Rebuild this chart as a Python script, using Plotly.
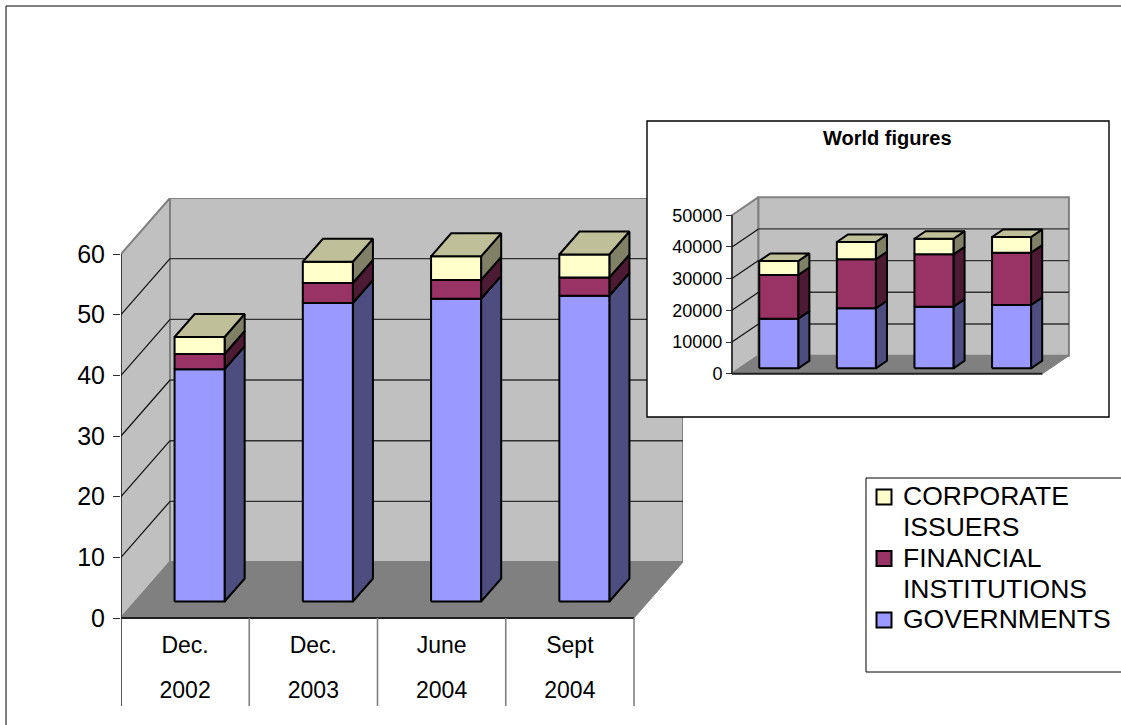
import plotly.graph_objects as go

W, H = 1121, 725
FONT = "Liberation Sans"

# Main chart: percentage shares
MONTHS = ["Dec.", "Dec.", "June", "Sept"]
YEARS = ["2002", "2003", "2004", "2004"]
GOVERNMENTS = [38.3, 49.2, 49.9, 50.4]
FINANCIAL = [2.5, 3.3, 3.1, 3.0]
CORPORATE = [2.8, 3.5, 3.9, 3.8]
MAIN_TICKS = [0, 10, 20, 30, 40, 50, 60]

# Inset chart: world figures
WORLD_GOVERNMENTS = [15650, 18930, 19430, 19970]
WORLD_FINANCIAL = [13780, 15455, 16530, 16500]
WORLD_CORPORATE = [4420, 5455, 4920, 4950]
WORLD_TICKS = [0, 10000, 20000, 30000, 40000, 50000]

# Legend text, one list of wrapped lines per series
LEGEND_LINES = [["CORPORATE", "ISSUERS"], ["FINANCIAL", "INSTITUTIONS"], ["GOVERNMENTS"]]
LEGEND_KEYS = ["corp", "fin", "gov"]

# front, side and top shades per series
SHADES = {
    "gov": ("#9999FF", "#4D4D80", "#7373BF"),
    "fin": ("#993366", "#4D1A33", "#732650"),
    "corp": ("#FFFFCC", "#808066", "#BFBF99"),
}
WALL, FLOOR, EDGE = "#C0C0C0", "#808080", "#808080"

fig = go.Figure()


def polygon(xa, ya, pts, fill, line="#000000", width=2.0):
    fig.add_trace(go.Scatter(
        x=[p[0] for p in pts] + [pts[0][0]],
        y=[p[1] for p in pts] + [pts[0][1]],
        xaxis=xa, yaxis=ya, mode="lines", fill="toself", fillcolor=fill,
        line=dict(color=line, width=width), hoverinfo="skip",
        showlegend=False, cliponaxis=False,
    ))


def segment(xa, ya, a, b, color, width=1.0):
    fig.add_trace(go.Scatter(
        x=[a[0], b[0]], y=[a[1], b[1]], xaxis=xa, yaxis=ya, mode="lines",
        line=dict(color=color, width=width), hoverinfo="skip",
        showlegend=False, cliponaxis=False,
    ))


def draw_box_chart(xa, ya, stacks, ticks, dx, dy, bar_w, near, far, wall_w):
    """Oblique-projected stacked columns: depth d shifts by (d*dx, d*dy)."""
    n = len(stacks[0][1])
    top = ticks[-1]

    def proj(x, v, d):
        return (x + d * dx, v + d * dy)

    # walls and floor
    polygon(xa, ya, [proj(0, 0, 0), proj(0, top, 0), proj(0, top, 1), proj(0, 0, 1)],
            WALL, EDGE, wall_w)
    polygon(xa, ya, [proj(0, 0, 1), proj(0, top, 1), proj(n, top, 1), proj(n, 0, 1)],
            WALL, EDGE, wall_w)
    polygon(xa, ya, [proj(0, 0, 0), proj(n, 0, 0), proj(n, 0, 1), proj(0, 0, 1)],
            FLOOR, EDGE, 1.0)
    segment(xa, ya, proj(0, 0, 0), proj(n, 0, 0), "#202020", 2.0)
    segment(xa, ya, proj(0, 0, 0), proj(0, top, 0), "#202020", 1.4)

    # gridlines on the side and back walls
    for t in ticks[1:-1]:
        segment(xa, ya, proj(0, t, 0), proj(0, t, 1), "#101010", 1.2)
        segment(xa, ya, proj(0, t, 1), proj(n, t, 1), "#303030", 1.4)

    # stacked columns, one box per series
    gap = (1 - bar_w) / 2
    for i in range(n):
        x0, x1 = i + gap, i + gap + bar_w
        base = 0
        last = len(stacks) - 1
        for s, (key, vals) in enumerate(stacks):
            front, side, cap = SHADES[key]
            v0, v1 = base, base + vals[i]
            polygon(xa, ya, [proj(x1, v0, near), proj(x1, v1, near), proj(x1, v1, far), proj(x1, v0, far)], side)
            polygon(xa, ya, [proj(x0, v0, near), proj(x1, v0, near), proj(x1, v1, near), proj(x0, v1, near)], front)
            if s == last:
                polygon(xa, ya, [proj(x0, v1, near), proj(x1, v1, near), proj(x1, v1, far), proj(x0, v1, far)], cap)
            base = v1


# Main chart
draw_box_chart(
    "x", "y",
    [("gov", GOVERNMENTS), ("fin", FINANCIAL), ("corp", CORPORATE)],
    MAIN_TICKS, dx=0.382, dy=9.23, bar_w=0.39, near=0.295, far=0.705, wall_w=2.0,
)

# Category table under the main chart
MAIN_LOW = -14.5
for i in range(len(MONTHS) + 1):
    segment("x", "y", (i, 0), (i, MAIN_LOW), "#303030" if i == 0 else "#808080", 1.6)
centers = [i + 0.5 for i in range(len(MONTHS))]
for labels, level in ((MONTHS, -4.8), (YEARS, -12.2)):
    fig.add_trace(go.Scatter(x=centers, y=[level] * len(labels), text=labels, mode="text",
                             xaxis="x", yaxis="y",
                             textfont=dict(family=FONT, size=23, color="#000000"),
                             hoverinfo="skip", showlegend=False, cliponaxis=False))

# Inset chart
draw_box_chart(
    "x2", "y2",
    [("gov", WORLD_GOVERNMENTS), ("fin", WORLD_FINANCIAL), ("corp", WORLD_CORPORATE)],
    WORLD_TICKS, dx=0.3415, dy=5680, bar_w=0.5026, near=0.3, far=0.72, wall_w=2.0,
)

# Legend panel: rows of wrapped text, with a swatch on each series' first row
rows, row_text, swatch_rows, swatch_colors = [], [], [], []
for lines, key in zip(LEGEND_LINES, LEGEND_KEYS):
    swatch_rows.append(len(rows))
    swatch_colors.append(SHADES[key][0])
    for line in lines:
        rows.append(len(rows))
        row_text.append(line)
fig.add_trace(go.Scatter(
    x=[18] * len(swatch_rows), y=swatch_rows, mode="markers", xaxis="x3", yaxis="y3",
    marker=dict(symbol="square", size=15, color=swatch_colors, line=dict(color="#000000", width=2)),
    hoverinfo="skip", showlegend=False, cliponaxis=False,
))
fig.add_trace(go.Scatter(
    x=[37] * len(rows), y=[r + 0.06 for r in rows], text=row_text, mode="text",
    textposition="middle right", xaxis="x3", yaxis="y3",
    textfont=dict(family=FONT, size=26.5, color="#000000"),
    hoverinfo="skip", showlegend=False, cliponaxis=False,
))

axis_off = dict(showgrid=False, zeroline=False, showline=False, showticklabels=False, ticks="")


def px_x(v):
    return v / W


def px_y(v):
    return 1 - v / H


fig.update_layout(
    width=W, height=H, margin=dict(l=0, r=0, t=0, b=0, autoexpand=False),
    paper_bgcolor="#FFFFFF", plot_bgcolor="#FFFFFF",
    font=dict(family=FONT, color="#000000"),
    hovermode=False, showlegend=False,
    xaxis=dict(domain=[px_x(121), px_x(683)], range=[0, 4.382], **axis_off),
    yaxis=dict(domain=[px_y(706), px_y(198)], range=[MAIN_LOW, 69.23],
               tickvals=MAIN_TICKS, ticks="outside", ticklen=7, tickwidth=1.4,
               tickcolor="#303030", tickfont=dict(family=FONT, size=25),
               showgrid=False, zeroline=False, showline=False, ticklabelstandoff=3),
    xaxis2=dict(domain=[px_x(647), px_x(1109)], range=[-1.095, 4.858], anchor="y2", **axis_off),
    yaxis2=dict(domain=[px_y(417), px_y(121)], range=[-13660, 79716],
                anchor="free", position=px_x(732),
                tickvals=WORLD_TICKS, tickformat="d", ticks="outside", ticklen=6, tickwidth=1.4,
                tickcolor="#303030", tickfont=dict(family=FONT, size=18),
                showgrid=False, zeroline=False, showline=False),
    xaxis3=dict(domain=[px_x(866), 1], range=[0, 255], anchor="y3", **axis_off),
    yaxis3=dict(domain=[px_y(672), px_y(478)], range=[5.69, -0.618], anchor="x3", **axis_off),
    shapes=[
        # outer chart frame, running off the right and bottom of the page
        dict(type="rect", xref="paper", yref="paper", layer="below",
             x0=px_x(6), x1=px_x(W + 10), y0=px_y(H + 10), y1=px_y(6),
             line=dict(color="#000000", width=1), fillcolor="rgba(0,0,0,0)"),
        # inset frame
        dict(type="rect", xref="paper", yref="paper", layer="above",
             x0=px_x(647), x1=px_x(1109), y0=px_y(417), y1=px_y(121),
             line=dict(color="#000000", width=1.4), fillcolor="rgba(0,0,0,0)"),
        # legend frame
        dict(type="rect", xref="paper", yref="paper", layer="above",
             x0=px_x(866), x1=px_x(W + 10), y0=px_y(672), y1=px_y(478),
             line=dict(color="#000000", width=1), fillcolor="rgba(255,255,255,0)"),
    ],
    annotations=[
        dict(text="<b>World figures</b>", xref="paper", yref="paper",
             x=px_x(887), y=px_y(137.5), showarrow=False, xanchor="center", yanchor="middle",
             font=dict(family=FONT, size=20, color="#000000")),
    ],
)

fig.write_html("out.html")
